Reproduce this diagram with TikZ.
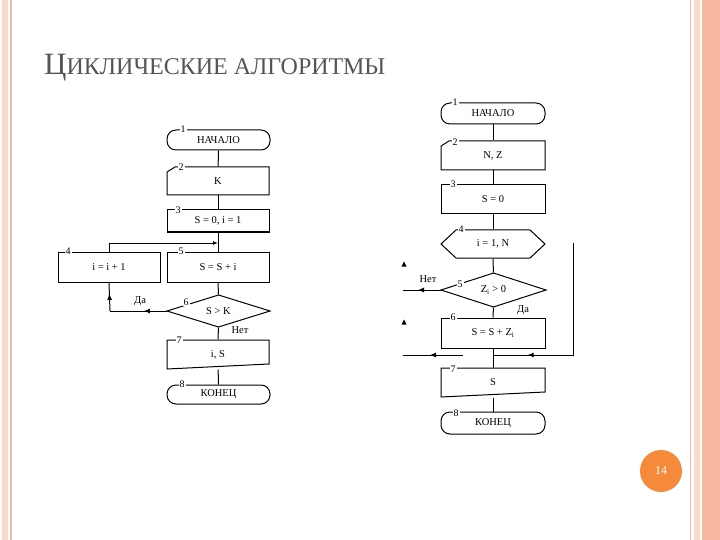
\documentclass[tikz,border=0pt]{standalone}
\usepackage{fontspec}
\setmainfont{Liberation Serif}
\usetikzlibrary{arrows.meta,decorations.markings}
\definecolor{brd}{HTML}{F7B9A0}
\definecolor{brdl}{HTML}{FBD9CB}
\definecolor{orng}{HTML}{F58A3A}
\definecolor{ttl}{HTML}{555555}
\tikzset{
  ln/.style={line width=1pt},
  fig/.style={ln,draw=none,inner sep=0pt,font=\fontsize{10.5}{12}\selectfont},
  num/.style={inner sep=1pt,fill=white,font=\fontsize{10}{11}\selectfont},
  lbl/.style={inner sep=1pt,font=\fontsize{10.5}{12}\selectfont},
  marr/.style={postaction={decorate},decoration={markings,mark=at position #1 with {\arrow{Latex[length=6pt,width=5pt]}}}},
}
\newcommand\fcterm[6]{\draw[ln,rounded corners=9pt] (#2,#3) rectangle (#4,#5);
  \node[fig,minimum width={#4-#2},minimum height={#5-#3}] (#1) at ({(#2+#4)/2},{(#3+#5)/2}) {#6};}
\newcommand\fcbox[6]{\draw[ln] (#2,#3) rectangle (#4,#5);
  \node[fig,minimum width={#4-#2},minimum height={#5-#3}] (#1) at ({(#2+#4)/2},{(#3+#5)/2}) {#6};}
\newcommand\fcin[6]{\draw[ln] (#2,#5) -- (#2,#3+5) -- (#2+8,#3) -- (#4,#3) -- (#4,#5) -- cycle;
  \node[fig,minimum width={#4-#2},minimum height={#5-#3}] (#1) at ({(#2+#4)/2},{(#3+#5)/2}) {#6};}
\newcommand\fcout[6]{\draw[ln] (#2,#3) -- (#4,#3) -- (#4,#5-5) -- (#2,#5) -- cycle;
  \node[fig,minimum width={#4-#2},minimum height={#5-#3}] (#1) at ({(#2+#4)/2},{(#3+#5)/2}) {#6};}
\newcommand\fcdia[6]{\draw[ln] (#2,{(#3+#5)/2}) -- ({(#2+#4)/2},#3) -- (#4,{(#3+#5)/2}) -- ({(#2+#4)/2},#5) -- cycle;
  \node[fig,minimum width={#4-#2},minimum height={#5-#3}] (#1) at ({(#2+#4)/2},{(#3+#5)/2}) {#6};}
\newcommand\fchex[6]{\draw[ln] (#2,{(#3+#5)/2}) -- (#2+15,#3) -- (#4-15,#3) -- (#4,{(#3+#5)/2}) -- (#4-15,#5) -- (#2+15,#5) -- cycle;
  \node[fig,minimum width={#4-#2},minimum height={#5-#3}] (#1) at ({(#2+#4)/2},{(#3+#5)/2}) {#6};}
\begin{document}
\begin{tikzpicture}[x=1pt,y=-1pt]
\useasboundingbox (0,0) rectangle (720,540);
\fill[white] (0,0) rectangle (720,540);
% slide border
\fill[brdl] (2,0) rectangle (8,540);
\draw[brd,line width=1.2pt] (11,0) -- (11,540);
\draw[brd,line width=0.8pt] (690,0) -- (690,540);
\fill[brdl] (694,0) rectangle (700,540);
\fill[brd] (702,0) rectangle (720,540);
% title
\node[anchor=base west,text=ttl,inner sep=0pt] (title) at (44,75)
  {\fontsize{31}{34}\selectfont Ц\fontsize{24}{28}\selectfont ИКЛИЧЕСКИЕ АЛГОРИТМЫ};
% page number
\node[circle,fill=orng,minimum size=42pt,inner sep=0pt,text=white,font=\fontsize{12}{14}\selectfont] (pg) at (661,471) {14};

% ===== left chart =====
\fcterm{a1}{167}{130}{270}{150}{НАЧАЛО}
\fcin{a2}{167}{167}{269}{195}{K}
\fcbox{a3}{167}{210}{269}{232}{S = 0, i = 1}
\fcbox{a4}{58}{252}{160}{282}{i = i + 1}
\fcbox{a5}{167}{252}{269}{282}{S = S + i}
\fcdia{a6}{167}{295}{270}{327}{S > K}
\fcout{a7}{167}{340}{269}{369}{i, S}
\fcterm{a8}{167}{385}{270}{404}{КОНЕЦ}
\node[num] at (183,129) {1};
\node[num] at (181,167) {2};
\node[num] at (178,210) {3};
\node[num] at (68,251) {4};
\node[num] at (181,251) {5};
\node[num] at (186,302) {6};
\node[num] at (179,340) {7};
\node[num] at (182,384) {8};
\node[lbl] (da1) at (140,301) {Да};
\node[lbl] (net1) at (240,330) {Нет};
\draw[ln] (a1) -- (a2);
\draw[ln] (a2) -- (a3);
\draw[ln] (a3) -- (a5);
\draw[ln] (a5) -- (a6);
\draw[ln] (a6) -- (a7);
\draw[ln] (a7) -- (a8);
\coordinate (aj) at (218,243);
\coordinate (ac) at (110,311);
\draw[ln,-{Latex[length=5pt,width=4pt]}] (a4.north) |- (aj);
\draw[ln,marr=0.4] (a6.west) -- (ac);
\draw[ln,marr=0.6] (ac) -- (a4.south);

% ===== right chart =====
\fcterm{b1}{441}{103}{545}{124}{НАЧАЛО}
\fcin{b2}{441}{141}{545}{170}{N, Z}
\fcbox{b3}{441}{185}{545}{214}{S = 0}
\fchex{b4}{441}{230}{545}{258}{i = 1, N}
\fcdia{b5}{441}{273}{546}{307}{Z\textsubscript{i} > 0}
\fcbox{b6}{441}{318}{545}{348}{S = S + Z\textsubscript{i}}
\fcout{b7}{441}{368}{545}{397}{S}
\fcterm{b8}{441}{412}{545}{434}{КОНЕЦ}
\node[num] at (455,102) {1};
\node[num] at (455,142) {2};
\node[num] at (453,184) {3};
\node[num] at (461,229) {4};
\node[num] at (460,284) {5};
\node[num] at (453,317) {6};
\node[num] at (453,369) {7};
\node[num] at (456,413) {8};
\node[lbl] (net2) at (428,279) {Нет};
\node[lbl] (da2) at (523,310) {Да};
\draw[ln] (b1) -- (b2);
\draw[ln] (b2) -- (b3);
\draw[ln] (b3) -- (b4);
\draw[ln] (b4) -- (b5);
\draw[ln] (b5) -- (b6);
\draw[ln] (b6.south) -- (b7.north);
\draw[ln] (b7) -- (b8);
\coordinate (bn) at (403,290);
\draw[ln,marr=0.6] (b5.west) -- (bn);
\coordinate (rt) at (573,243);
\coordinate (rb) at (573,355);
\coordinate (rj) at (493,355);
\draw[ln,marr=0.82] (rt) -- (rb) -- (rj);
\coordinate (ls) at (463,355);
\coordinate (le) at (403,355);
\draw[ln,marr=0.55] (ls) -- (le);
\coordinate (t1) at (404,264);
\coordinate (t2) at (404,322);
\fill (t1) ++(-2.5,2.5) -- ++(5,0) -- ++(-2.5,-5) -- cycle;
\fill (t2) ++(-2.5,2.5) -- ++(5,0) -- ++(-2.5,-5) -- cycle;
\end{tikzpicture}
\end{document}
